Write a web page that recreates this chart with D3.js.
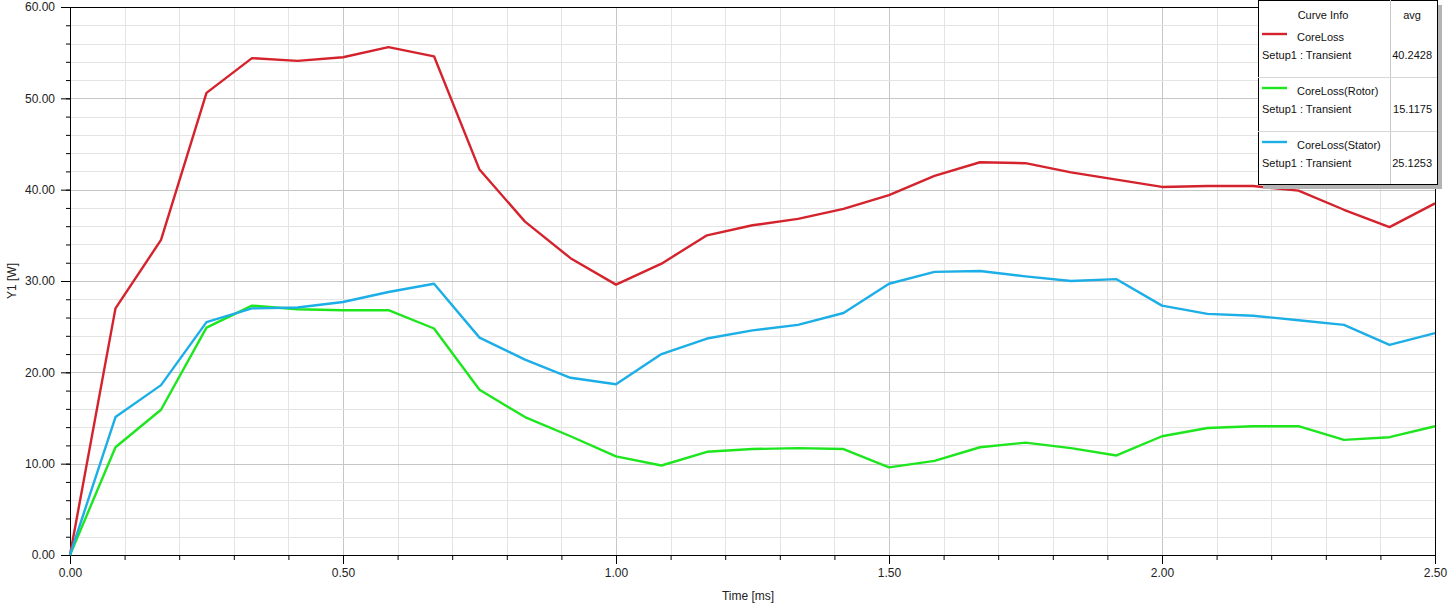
<!DOCTYPE html>
<html><head><meta charset="utf-8">
<script src="https://cdn.jsdelivr.net/npm/d3@7"></script>
<style>
html,body{margin:0;padding:0;background:#fff;}
svg text{font-family:"Liberation Sans",Arial,sans-serif;}
</style></head>
<body>
<svg id="chart" width="1452" height="607"></svg>
<script>
// time points (ms): 31 samples, step 1/12 ms
const timeMs = [0,0.0833,0.1667,0.25,0.3333,0.4167,0.5,0.5833,0.6667,0.75,0.8333,0.9167,1.0,1.0833,1.1667,1.25,1.3333,1.4167,1.5,1.5833,1.6667,1.75,1.8333,1.9167,2.0,2.0833,2.1667,2.25,2.3333,2.4167,2.5];
const coreLoss =       [0,27.0,34.5,50.6,54.4,54.1,54.5,55.6,54.6,42.2,36.5,32.5,29.6,31.9,35.0,36.1,36.8,37.9,39.4,41.5,43.0,42.9,41.9,41.1,40.3,40.4,40.4,39.9,37.8,35.9,38.5];
const coreLossRotor =  [0,11.8,15.9,24.9,27.3,26.9,26.8,26.8,24.8,18.1,15.1,13.0,10.8,9.8,11.3,11.6,11.7,11.6,9.6,10.3,11.8,12.3,11.7,10.9,13.0,13.9,14.1,14.1,12.6,12.9,14.1];
const coreLossStator = [0,15.1,18.6,25.5,27.0,27.1,27.7,28.8,29.7,23.8,21.4,19.4,18.7,22.0,23.7,24.6,25.2,26.5,29.7,31.0,31.1,30.5,30.0,30.2,27.3,26.4,26.2,25.7,25.2,23.0,24.3];
const seriesNames = ["CoreLoss","CoreLoss(Rotor)","CoreLoss(Stator)"];
const seriesAvg = ["40.2428","15.1175","25.1253"];
const seriesColors = ["#d4232d","#1ee61e","#1caee6"];
const xTickLabels = ["0.00","0.50","1.00","1.50","2.00","2.50"];
const yTickLabels = ["0.00","10.00","20.00","30.00","40.00","50.00","60.00"];

const svg = d3.select("#chart");
const L=70, R=1435, T=7, B=555;
const x = d3.scaleLinear().domain([0,2.5]).range([L,R]);
const y = d3.scaleLinear().domain([0,60]).range([B,T]);

// grid
const g = svg.append("g");
const minorX = d3.range(0,26).map(i=>i/10);
const minorY = d3.range(0,31).map(i=>i*2);
g.selectAll(".gx").data(minorX).enter().append("line")
  .attr("x1",d=>Math.round(x(d))+0.5).attr("x2",d=>Math.round(x(d))+0.5).attr("y1",T).attr("y2",B)
  .attr("stroke",(d,i)=> i%5===0 ? "#c6c6c6" : "#e4e4e4").attr("stroke-width",1);
g.selectAll(".gy").data(minorY).enter().append("line")
  .attr("y1",d=>Math.round(y(d))+0.5).attr("y2",d=>Math.round(y(d))+0.5).attr("x1",L).attr("x2",R)
  .attr("stroke",(d,i)=> i%5===0 ? "#c6c6c6" : "#e4e4e4").attr("stroke-width",1);

// axes (ticks)
const xAxis = d3.axisBottom(x).tickValues(minorX).tickSize(5).tickFormat("");
const xAxisMajor = d3.axisBottom(x).tickValues(xTickLabels.map(Number)).tickSize(9)
  .tickFormat((d,i)=>xTickLabels[i]).tickPadding(4);
svg.append("g").attr("transform",`translate(0,${B})`).call(xAxis).call(s=>s.select(".domain").remove())
  .selectAll("line").attr("stroke","#000");
const xm = svg.append("g").attr("transform",`translate(0,${B})`).call(xAxisMajor);
xm.select(".domain").attr("stroke","#000");
xm.selectAll("line").attr("stroke","#000");
xm.selectAll("text").attr("font-size",12).attr("fill","#222").attr("font-family","Liberation Sans, Arial, sans-serif");

const yAxis = d3.axisLeft(y).tickValues(minorY).tickSize(4).tickFormat("");
const yAxisMajor = d3.axisLeft(y).tickValues(yTickLabels.map(Number)).tickSize(9)
  .tickFormat((d,i)=>yTickLabels[i]).tickPadding(6);
svg.append("g").attr("transform",`translate(${L},0)`).call(yAxis).call(s=>s.select(".domain").remove())
  .selectAll("line").attr("stroke","#000");
const ym = svg.append("g").attr("transform",`translate(${L},0)`).call(yAxisMajor);
ym.select(".domain").attr("stroke","#000");
ym.selectAll("line").attr("stroke","#000");
ym.selectAll("text").attr("font-size",12).attr("fill","#222").attr("font-family","Liberation Sans, Arial, sans-serif");

// frame top/right
svg.append("line").attr("x1",L).attr("x2",R).attr("y1",T+0.5).attr("y2",T+0.5).attr("stroke","#000");
svg.append("line").attr("x1",R+0.5).attr("x2",R+0.5).attr("y1",T).attr("y2",B).attr("stroke","#000");

// axis titles
svg.append("text").attr("x",748).attr("y",600).attr("text-anchor","middle").attr("font-size",12).attr("fill","#222").text("Time [ms]");
svg.append("text").attr("transform","translate(16,281) rotate(-90)").attr("text-anchor","middle").attr("font-size",12).attr("fill","#222").text("Y1 [W]");

// lines
const allSeries = [coreLoss, coreLossRotor, coreLossStator];
const line = d3.line().x((d,i)=>x(timeMs[i])).y(d=>y(d));
allSeries.forEach((s,k)=>{
  svg.append("path").datum(s).attr("d",line).attr("fill","none")
    .attr("stroke",seriesColors[k]).attr("stroke-width",2.4).attr("stroke-linejoin","round");
});

// legend
const lg = svg.append("g");
const lx=1258, ly=0, lw=179, lh=184, colX=1390;
lg.append("rect").attr("x",lx+5).attr("y",ly+5).attr("width",lw).attr("height",lh).attr("fill","#b4b4b4");
lg.append("rect").attr("x",lx+0.5).attr("y",ly+0.5).attr("width",lw).attr("height",lh).attr("fill","#fff").attr("stroke","#000");
lg.append("line").attr("x1",colX+0.5).attr("x2",colX+0.5).attr("y1",ly).attr("y2",ly+lh).attr("stroke","#c8c8c8");
[77,131].forEach(yy=>lg.append("line").attr("x1",lx).attr("x2",lx+lw).attr("y1",yy+0.5).attr("y2",yy+0.5).attr("stroke","#d6d6d6"));
lg.append("text").attr("x",1323).attr("y",19).attr("text-anchor","middle").attr("font-size",11).attr("fill","#111").text("Curve Info");
lg.append("text").attr("x",1412).attr("y",19).attr("text-anchor","middle").attr("font-size",11).attr("fill","#111").text("avg");
seriesNames.forEach((n,k)=>{
  const by = 34 + k*54;
  lg.append("line").attr("x1",1262).attr("x2",1287).attr("y1",by).attr("y2",by).attr("stroke",seriesColors[k]).attr("stroke-width",2.4);
  lg.append("text").attr("x",1297).attr("y",by+7).attr("font-size",11).attr("fill","#111").text(n);
  lg.append("text").attr("x",1262).attr("y",by+25).attr("font-size",11).attr("fill","#111").text("Setup1 : Transient");
  lg.append("text").attr("x",1432).attr("y",by+25).attr("text-anchor","end").attr("font-size",11).attr("fill","#111").text(seriesAvg[k]);
});
</script>
</body></html>
